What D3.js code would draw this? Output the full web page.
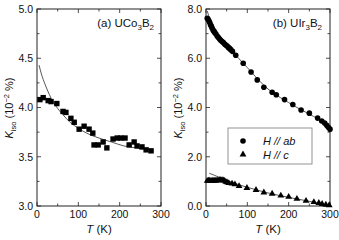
<!DOCTYPE html>
<html><head><meta charset="utf-8">
<script src="https://cdn.jsdelivr.net/npm/d3@7"></script>
<style>body{margin:0;background:#fff}svg{display:block}text{font-family:"Liberation Sans",Arial,sans-serif;fill:#111}</style>
</head><body><svg id="c" width="339" height="240"></svg>
<script>
// Panel (a) UCo3B2
const aT = [7,15,27,34,48,63,70,82,90,102,114,126,135,138,148,160,169,184,194,203,213,223,235,242,254,264,276];
const aK = [4.08,4.10,4.07,4.06,4.04,3.96,3.95,3.89,3.85,3.78,3.81,3.78,3.74,3.62,3.62,3.65,3.59,3.68,3.69,3.69,3.69,3.62,3.65,3.61,3.60,3.57,3.56];
const aFitT = [5,10,20,30,40,50,60,80,100,120,150,180,210,240,270,282];
const aFitK = [4.43,4.35,4.23,4.13,4.05,3.99,3.94,3.85,3.79,3.74,3.69,3.65,3.61,3.59,3.57,3.56];
// Panel (b) UIr3B2, H // ab
const abT = [3,5,7,9,11,13,15,17,19,21,24,27,30,33,36,39,42,45,48,51,54,57,60,64,72,90,109,124,140,160,170,190,210,230,250,270,280,287,292,296,300];
const abK = [7.62,7.58,7.52,7.45,7.36,7.30,7.22,7.15,7.10,7.05,6.98,6.90,6.84,6.78,6.72,6.68,6.64,6.58,6.54,6.50,6.44,6.40,6.35,6.28,6.12,5.80,5.44,5.12,4.82,4.62,4.52,4.32,4.12,3.90,3.77,3.57,3.45,3.37,3.28,3.20,3.12];
const abFitT = [3,10,20,30,40,50,60,80,100,120,140,160,180,200,220,240,260,280,290,300];
const abFitK = [7.92,7.55,7.18,6.90,6.68,6.50,6.34,5.98,5.62,5.25,4.90,4.62,4.40,4.20,4.00,3.82,3.64,3.45,3.32,3.10];
// H // c
const cT = [3,6,9,12,15,18,21,24,27,30,33,36,39,42,45,48,51,55,63,70,80,99,121,140,160,181,200,220,242,261,273,281,290,298];
const cK = [1.02,1.03,1.03,1.02,1.03,1.02,1.03,1.03,1.04,1.03,1.05,1.06,1.05,1.04,1.02,0.98,0.96,0.93,0.91,0.88,0.81,0.73,0.65,0.55,0.50,0.42,0.37,0.29,0.21,0.16,0.12,0.08,0.05,0.03];
const cFitT = [8,20,30,50,80,100,150,200,250,300];
const cFitK = [1.33,1.25,1.18,1.05,0.86,0.76,0.53,0.35,0.19,0.02];
const xTicks = [0,100,200,300];
const aTicks = [3.0,3.5,4.0,4.5,5.0];
const bTicks = [0,2,4,6,8];
const titleA = ["(a) UCo","3","B","2"];
const titleB = ["(b) UIr","3","B","2"];
const legendLabels = ["H // ab","H // c"];

const svg = d3.select("#c");
const yTop = 9, yBot = 206;

function panel(x0, yDomain, yTicks, yMinorStep, fmt) {
  const g = svg.append("g");
  const x = d3.scaleLinear().domain([0,300]).range([x0, x0+124]);
  const y = d3.scaleLinear().domain(yDomain).range([yBot, yTop]);
  const xs = x.range();
  g.append("rect").attr("x",xs[0]).attr("y",yTop).attr("width",124).attr("height",yBot-yTop)
    .attr("fill","none").attr("stroke","#222").attr("stroke-width",1);
  const tk = g.append("g").attr("stroke","#222").attr("stroke-width",0.8);
  d3.range(0,301,50).forEach(t=>{
    const L = t%100===0?4:2.5;
    tk.append("line").attr("x1",x(t)).attr("x2",x(t)).attr("y1",yBot).attr("y2",yBot-L);
    tk.append("line").attr("x1",x(t)).attr("x2",x(t)).attr("y1",yTop).attr("y2",yTop+L);
  });
  d3.range(yDomain[0], yDomain[1]+1e-9, yMinorStep).forEach((v,i)=>{
    const L = i%2===0?4:2.5;
    tk.append("line").attr("x1",xs[0]).attr("x2",xs[0]+L).attr("y1",y(v)).attr("y2",y(v));
    tk.append("line").attr("x1",xs[1]).attr("x2",xs[1]-L).attr("y1",y(v)).attr("y2",y(v));
  });
  xTicks.forEach(t=>g.append("text").attr("x",x(t)).attr("y",218).attr("text-anchor","middle")
    .attr("font-size",10.5).text(t));
  yTicks.forEach(v=>g.append("text").attr("x",xs[0]-4).attr("y",y(v)+3.8).attr("text-anchor","end")
    .attr("font-size",10.5).text(fmt(v)));
  return {g,x,y};
}

function title(g, parts, xr, yb) {
  const t = g.append("text").attr("x",xr).attr("y",yb).attr("text-anchor","end").attr("font-size",11.5);
  t.append("tspan").text(parts[0]);
  t.append("tspan").attr("font-size",8).attr("dy",3).text(parts[1]);
  t.append("tspan").attr("dy",-3).text(parts[2]);
  t.append("tspan").attr("font-size",8).attr("dy",3).text(parts[3]);
}

function ylab(g, cx) {
  const t = g.append("text").attr("transform",`translate(${cx},108) rotate(-90)`).attr("text-anchor","middle").attr("font-size",11);
  t.append("tspan").attr("font-style","italic").text("K");
  t.append("tspan").attr("font-size",7.5).attr("dy",2.5).text("iso");
  t.append("tspan").attr("dy",-2.5).text(" (10");
  t.append("tspan").attr("font-size",7.5).attr("dy",-4).text("−2");
  t.append("tspan").attr("dy",4).text(" %)");
}
function xlab(g, cx, sp) {
  const t = g.append("text").attr("x",cx).attr("y",233).attr("text-anchor","middle").attr("font-size",11.5);
  t.append("tspan").attr("font-style","italic").text("T");
  t.append("tspan").text(sp+"(K)");
}

const line = (x,y)=>d3.line().x(d=>x(d[0])).y(d=>y(d[1])).curve(d3.curveMonotoneX);

// Panel a
const A = panel(37, [3.0,5.0], aTicks, 0.25, d=>d.toFixed(1));
title(A.g, titleA, 154, 27);
ylab(A.g, 13);
xlab(A.g, 99, " ");
A.g.append("path").datum(aFitT.map((t,i)=>[t,aFitK[i]])).attr("d",line(A.x,A.y))
  .attr("fill","none").attr("stroke","#444").attr("stroke-width",0.9);
A.g.selectAll(".sq").data(aT.map((t,i)=>[t,aK[i]])).join("rect")
  .attr("x",d=>A.x(d[0])-2.7).attr("y",d=>A.y(d[1])-2.7).attr("width",5.4).attr("height",5.4).attr("fill","#000");

// Panel b
const B = panel(206, [0,8], bTicks, 1, d=>d.toFixed(1));
title(B.g, titleB, 322, 27);
ylab(B.g, 182);
xlab(B.g, 268, "  ");
B.g.append("path").datum(abFitT.map((t,i)=>[t,abFitK[i]])).attr("d",line(B.x,B.y))
  .attr("fill","none").attr("stroke","#444").attr("stroke-width",0.9);
B.g.append("path").datum(cFitT.map((t,i)=>[t,cFitK[i]])).attr("d",line(B.x,B.y))
  .attr("fill","none").attr("stroke","#444").attr("stroke-width",0.9);
B.g.selectAll(".ci").data(abT.map((t,i)=>[t,abK[i]])).join("circle")
  .attr("cx",d=>B.x(d[0])).attr("cy",d=>B.y(d[1])).attr("r",2.8).attr("fill","#000");
const tri = d3.symbol().type(d3.symbolTriangle).size(20);
B.g.selectAll(".tr").data(cT.map((t,i)=>[t,cK[i]])).join("path")
  .attr("transform",d=>`translate(${B.x(d[0])},${B.y(d[1])})`).attr("d",tri).attr("fill","#000");

// legend
const lg = B.g.append("g");
lg.append("rect").attr("x",228).attr("y",128).attr("width",84).attr("height",36)
  .attr("fill","#fff").attr("stroke","#888").attr("stroke-width",0.9);
lg.append("circle").attr("cx",243).attr("cy",141).attr("r",2.8).attr("fill","#000");
lg.append("path").attr("transform","translate(243,154.5)").attr("d",tri).attr("fill","#000");
legendLabels.forEach((s,i)=>lg.append("text").attr("x",263).attr("y",145+i*13.5)
  .attr("font-size",11).attr("font-style","italic").text(s));
</script></body></html>
